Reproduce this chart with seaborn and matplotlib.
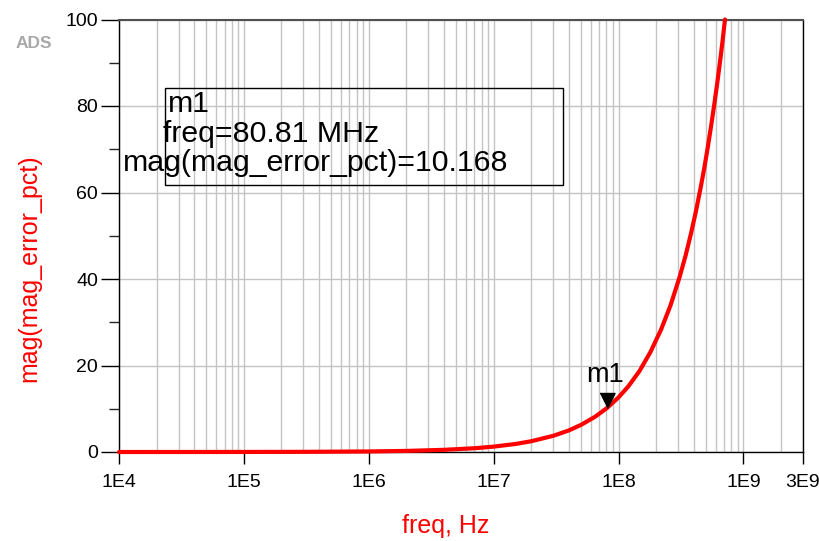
import numpy as np
import pandas as pd
import matplotlib
matplotlib.use("Agg")
import matplotlib.pyplot as plt
import seaborn as sns
from matplotlib.ticker import FixedLocator, LogLocator, NullFormatter
from matplotlib.patches import Rectangle

# ---- data ----
freq_hz = [1e4, 3e4, 1e5, 3e5, 1e6, 2e6, 4e6, 7e6, 1e7, 1.5e7, 2e7, 3e7, 4e7, 5e7,
           6.5e7, 8.081e7, 1e8, 1.2e8, 1.47e8, 1.8e8, 2.19e8, 2.6e8, 3.08e8,
           3.45e8, 3.81e8, 4.17e8, 4.53e8, 4.85e8, 5.18e8, 5.52e8, 5.86e8,
           6.18e8, 6.5e8, 6.8e8, 7.12e8]
mag_error_pct = [0.0, 0.004, 0.012, 0.037, 0.124, 0.25, 0.50, 0.87, 1.24, 1.86, 2.49, 3.74,
                 4.99, 6.26, 8.16, 10.168, 12.63, 15.2, 18.7, 23.1, 28.3, 33.8, 40.4,
                 45.5, 50.6, 55.7, 60.9, 65.5, 70.4, 75.5, 80.6,
                 85.4, 90.3, 94.9, 100.0]

x_tick_values = [1e4, 1e5, 1e6, 1e7, 1e8, 1e9, 3e9]
x_tick_labels = ["1E4", "1E5", "1E6", "1E7", "1E8", "1E9", "3E9"]
y_tick_values = [0, 20, 40, 60, 80, 100]
y_minor_values = [10, 30, 50, 70, 90]

marker_name = "m1"
marker_freq = 80.81e6
marker_value = 10.168
marker_lines = ["m1", "freq=80.81 MHz", "mag(mag_error_pct)=10.168"]

x_label = "freq, Hz"
y_label = "mag(mag_error_pct)"

# ---- style ----
sns.set_theme(style="white")
plt.rcParams["font.family"] = ["Liberation Sans", "DejaVu Sans"]

W, H = 820, 541
fig = plt.figure(figsize=(W / 100, H / 100), dpi=100)
fig.patch.set_facecolor("white")

def fx(px):
    return px / W

def fy(py):
    return 1 - py / H

left, right, top, bottom = 119, 803, 19.5, 452
ax = fig.add_axes([fx(left), fy(bottom), fx(right - left), (bottom - top) / H])

df = pd.DataFrame({"freq": freq_hz, "mag": mag_error_pct})
sns.lineplot(data=df, x="freq", y="mag", ax=ax, color="#ff0000", linewidth=3,
             clip_on=False, zorder=5)

ax.set_xscale("log")
ax.set_xlim(1e4, 3e9)
ax.set_ylim(0, 100)

# ticks
ax.xaxis.set_major_locator(FixedLocator(x_tick_values))
ax.set_xticklabels(x_tick_labels)
ax.xaxis.set_minor_locator(LogLocator(base=10, subs=range(2, 10), numticks=50))
ax.xaxis.set_minor_formatter(NullFormatter())
ax.yaxis.set_major_locator(FixedLocator(y_tick_values))
ax.yaxis.set_minor_locator(FixedLocator(y_minor_values))

ax.tick_params(axis="x", which="major", direction="out", length=8.5, width=1,
               pad=7, labelsize=14, colors="black", bottom=True)
ax.tick_params(axis="x", which="minor", length=0, bottom=False)
ax.tick_params(axis="y", which="major", direction="out", length=13, width=1,
               pad=2, labelsize=14, colors="black", left=True)
ax.tick_params(axis="y", which="minor", direction="out", length=7, width=1,
               left=True)

ax.set_axisbelow(True)
ax.grid(which="both", axis="x", color="#c4c4c4", linewidth=1)
ax.grid(which="major", axis="y", color="#c4c4c4", linewidth=1)
ax.grid(which="minor", axis="y", visible=False)

for name, sp in ax.spines.items():
    sp.set_visible(True)
    sp.set_color("black")
    sp.set_linewidth(1)
ax.spines["top"].set_color("#505050")
ax.spines["top"].set_linewidth(1.5)

ax.set_xlabel("")
ax.set_ylabel("")

# marker
ax.plot([marker_freq], [marker_value], linestyle="none",
        marker=[(-0.5, 1.0), (0.5, 1.0), (0.0, 0.0)], markersize=21.6,
        color="black", clip_on=False, zorder=6)
ax.annotate(marker_name, xy=(marker_freq, marker_value), xytext=(-15, 18.5),
            textcoords="offset points", va="baseline", ha="left", fontsize=19.5,
            color="black")

# marker readout box
fig.add_artist(Rectangle((fx(165), fy(185)), fx(563 - 165), (185 - 88) / H,
                         transform=fig.transFigure, fill=False,
                         edgecolor="black", linewidth=1))
line_pos = [(168, 112), (163, 142), (123, 171)]
for txt, (px, py) in zip(marker_lines, line_pos):
    fig.text(fx(px), fy(py), txt, fontsize=21.8, color="black",
             ha="left", va="baseline")

# axis labels
fig.text(fx(446), fy(526), x_label, color="#ff0000", fontsize=18,
         ha="center", va="center")
fig.text(fx(29), fy(268), y_label, color="#ff0000", fontsize=18,
         ha="center", va="center", rotation=90)

# ADS logo
fig.text(fx(34), fy(43), "ADS", color="#a8a8a8", fontsize=12.5,
         fontweight="bold", ha="center", va="center")

fig.savefig("out.png", dpi=100)
